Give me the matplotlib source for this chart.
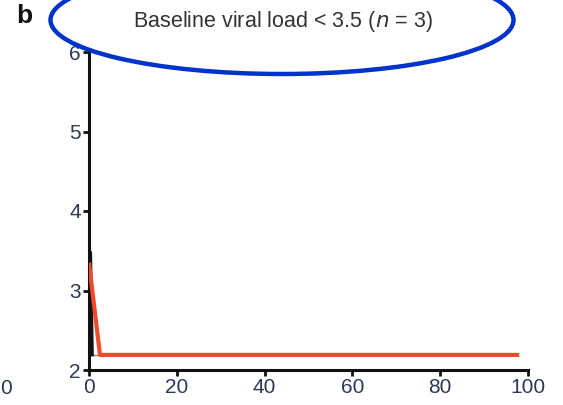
import matplotlib.pyplot as plt
from matplotlib.patches import Ellipse

# data
red_x = [0, 2.5, 98]
red_y = [3.35, 2.19, 2.19]
black_x = [0, 0.35, 0.75]
black_y = [3.3, 3.48, 2.19]
grey_x = [0.75, 2.5]
grey_y = [2.19, 2.19]
x_ticks = [0, 20, 40, 60, 80, 100]
y_ticks = [2, 3, 4, 5, 6]

plt.rcParams['font.family'] = ['Liberation Sans', 'DejaVu Sans']

fig = plt.figure(figsize=(5.63, 4.05), dpi=100)
ax = fig.add_axes([89 / 563, 35 / 405, 439 / 563, 318 / 405])

ax.plot(grey_x, grey_y, color='#888888', lw=1.0, zorder=2)
ax.plot(black_x, black_y, color='#111111', lw=2.2, zorder=3)
ax.plot(red_x, red_y, color='#f04a2a', lw=3.0, zorder=4, solid_capstyle='butt')

ax.set_xlim(0, 100)
ax.set_ylim(2, 6)
ax.set_xticks(x_ticks)
ax.set_yticks(y_ticks)
for side in ['top', 'right']:
    ax.spines[side].set_visible(False)
for side in ['left', 'bottom']:
    ax.spines[side].set_linewidth(2.2)
    ax.spines[side].set_color('#111111')
ax.tick_params(length=4, width=2, color='#111111', labelsize=15,
               labelcolor='#2a3a55', pad=2)
for lab in ax.get_xticklabels() + ax.get_yticklabels():
    lab.set_clip_on(False)

fig.text(283 / 563, 1 - 21 / 405, r'Baseline viral load < 3.5 ($\mathit{n}$ = 3)',
         ha='center', va='center', fontsize=15.5, color='#333333')
fig.text(16 / 563, 1 - 16 / 405, 'b', ha='left', va='center', fontsize=19,
         fontweight='bold', color='#111111')
# partial tick label of the neighbouring panel
fig.text(0, 1 - 388 / 405, '0', ha='left', va='center', fontsize=15,
         color='#2a3a55')

ell = Ellipse((282, 405 - 20), 463, 108, transform=None, fill=False,
              edgecolor='#0033cc', lw=3.2)
fig.add_artist(ell)

fig.savefig('out.png', dpi=100)
